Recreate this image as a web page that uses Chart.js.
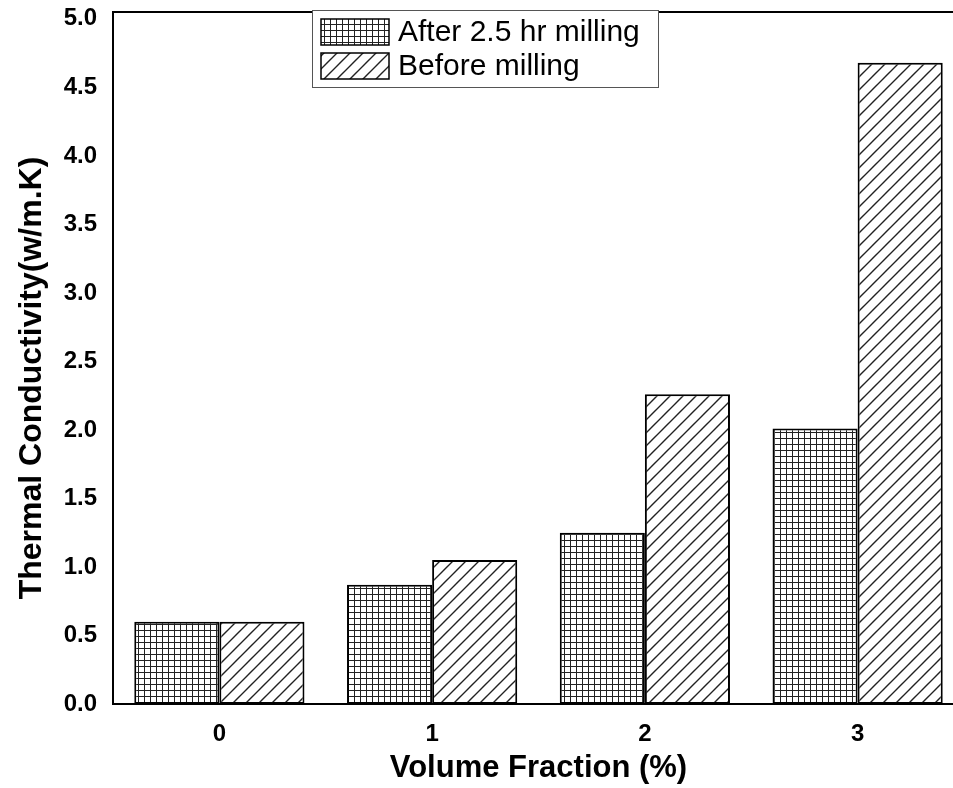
<!DOCTYPE html>
<html>
<head>
<meta charset="utf-8">
<script src="https://cdn.jsdelivr.net/npm/chart.js@4"></script>
<style>
  html, body { margin: 0; padding: 0; background: #fff; overflow: hidden; }
  #chart { display: block; }
</style>
</head>
<body>
<canvas id="chart" width="970" height="788"></canvas>
<script>
// ============ DATA ============
const categorias = ['0', '1', '2', '3'];
const despuesMolienda = [0.60, 0.87, 1.25, 2.01];
const antesMolienda = [0.60, 1.05, 2.26, 4.68];
const etiquetas = ['After 2.5 hr milling', 'Before milling'];
const yTicks = [0, 0.5, 1.0, 1.5, 2.0, 2.5, 3.0, 3.5, 4.0, 4.5, 5.0];
const yMin = 0, yMax = 5.05;
const tituloY = 'Thermal Conductivity(w/m.K)';

// ============ PATTERNS ============
function patronCuadricula() {
    const c = document.createElement('canvas');
    c.width = 6; c.height = 6;
    const g = c.getContext('2d');
    g.fillStyle = '#fff';
    g.fillRect(0, 0, 6, 6);
    g.fillStyle = '#222';
    g.fillRect(0, 0, 6, 1);
    g.fillRect(0, 0, 1, 6);
    return g.createPattern(c, 'repeat');
}

function patronDiagonal() {
    const s = 13;
    const c = document.createElement('canvas');
    c.width = s; c.height = s;
    const g = c.getContext('2d');
    g.fillStyle = '#fff';
    g.fillRect(0, 0, s, s);
    g.strokeStyle = '#222';
    g.lineWidth = 1.4;
    g.beginPath();
    g.moveTo(-1, s + 1); g.lineTo(s + 1, -1);
    g.moveTo(-1, 1); g.lineTo(1, -1);
    g.moveTo(s - 1, s + 1); g.lineTo(s + 1, s - 1);
    g.stroke();
    return g.createPattern(c, 'repeat');
}

// frame, y title and custom legend box
const marcoYLeyenda = {
    id: 'marcoYLeyenda',
    afterDatasetsDraw(chart) {
        const { ctx, chartArea } = chart;
        ctx.save();
        ctx.strokeStyle = '#000';
        ctx.lineWidth = 2;
        ctx.beginPath();
        ctx.moveTo(chartArea.left, chartArea.top);
        ctx.lineTo(chartArea.right, chartArea.top);
        ctx.lineTo(chartArea.right, chartArea.bottom);
        ctx.stroke();

        // y title (sits a bit below the middle of the axis)
        ctx.save();
        ctx.translate(32, 378);
        ctx.rotate(-Math.PI / 2);
        ctx.fillStyle = '#000';
        ctx.font = 'bold 32px "Liberation Sans", Arial, sans-serif';
        ctx.textAlign = 'center';
        ctx.textBaseline = 'middle';
        ctx.fillText(tituloY, 0, 0);
        ctx.restore();

        // legend
        const bx = 312, by = 10, bw = 346, bh = 77;
        ctx.fillStyle = '#fff';
        ctx.fillRect(bx, by, bw, bh);
        ctx.strokeStyle = '#555';
        ctx.lineWidth = 1;
        ctx.strokeRect(bx + 0.5, by + 0.5, bw, bh);

        chart.data.datasets.forEach((ds, i) => {
            const sy = 19 + i * 34;
            ctx.fillStyle = ds.backgroundColor;
            ctx.fillRect(321, sy, 68, 26);
            ctx.strokeStyle = '#000';
            ctx.lineWidth = 1.5;
            ctx.strokeRect(321, sy, 68, 26);
            ctx.fillStyle = '#000';
            ctx.font = '30px "Liberation Sans", Arial, sans-serif';
            ctx.textBaseline = 'middle';
            ctx.textAlign = 'left';
            ctx.fillText(ds.label, 398, sy + 14);
        });
        ctx.restore();
    }
};

const fuenteTicks = { family: '"Liberation Sans", Arial, sans-serif', size: 24, weight: 'bold' };
const fuenteTituloX = { family: '"Liberation Sans", Arial, sans-serif', size: 31, weight: 'bold' };

new Chart(document.getElementById('chart'), {
    type: 'bar',
    data: {
        labels: categorias,
        datasets: [{
            label: etiquetas[0],
            data: despuesMolienda,
            backgroundColor: patronCuadricula(),
            borderColor: '#000',
            borderWidth: 2,
            borderSkipped: false
        }, {
            label: etiquetas[1],
            data: antesMolienda,
            backgroundColor: patronDiagonal(),
            borderColor: '#000',
            borderWidth: 2,
            borderSkipped: false
        }]
    },
    options: {
        responsive: false,
        animation: false,
        devicePixelRatio: 1,
        layout: { padding: { top: 12, right: 6, left: 0, bottom: 0 } },
        categoryPercentage: 0.8,
        barPercentage: 1.0,
        plugins: {
            legend: { display: false },
            tooltip: { enabled: false }
        },
        scales: {
            x: {
                grid: { display: false, drawTicks: false },
                border: { display: true, color: '#000', width: 2 },
                ticks: { color: '#000', font: fuenteTicks, padding: 16 },
                title: {
                    display: true,
                    text: 'Volume Fraction (%)',
                    color: '#000',
                    font: fuenteTituloX,
                    padding: { top: 0, bottom: 1 }
                },
                afterFit(scale) {
                    scale.height = 84;
                    scale.paddingLeft = 0;
                    scale.paddingRight = 0;
                }
            },
            y: {
                min: yMin,
                max: yMax,
                grid: { display: false, drawTicks: false },
                border: { display: true, color: '#000', width: 2 },
                ticks: {
                    color: '#000',
                    font: fuenteTicks,
                    padding: 16,
                    callback: v => Number(v).toFixed(1)
                },
                afterBuildTicks(scale) {
                    scale.ticks = yTicks.map(v => ({ value: v }));
                },
                afterFit(scale) {
                    scale.width = 113;
                    scale.paddingTop = 0;
                    scale.paddingBottom = 0;
                }
            }
        }
    },
    plugins: [marcoYLeyenda]
});
</script>
</body>
</html>
